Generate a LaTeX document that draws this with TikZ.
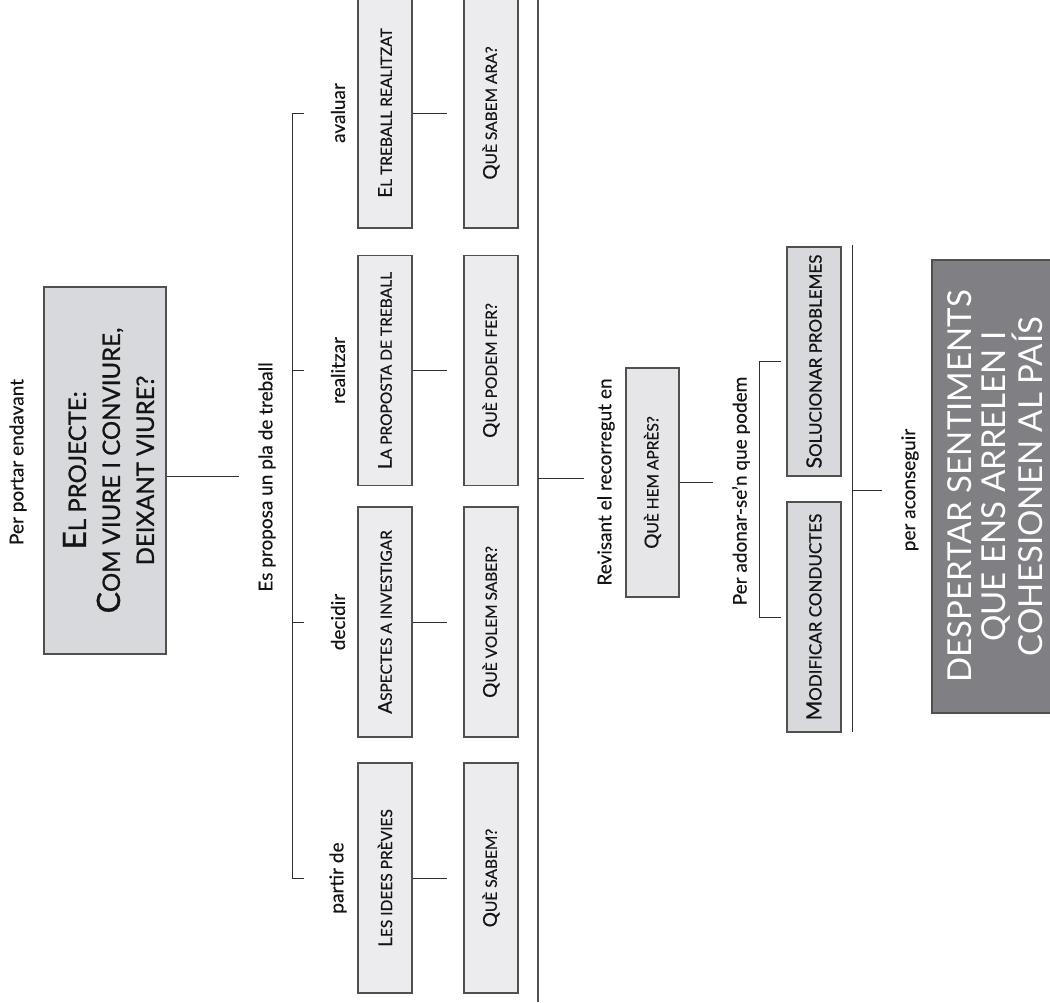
\documentclass[tikz,border=0pt]{standalone}
\usepackage{fontspec}
\setmainfont{Lato}
\definecolor{lightfill}{HTML}{ECECEE}
\definecolor{midfill}{HTML}{D8D9DC}
\definecolor{apresfill}{HTML}{E6E6E8}
\definecolor{darkfill}{HTML}{808084}
\definecolor{boxline}{HTML}{505050}
\definecolor{lineC}{HTML}{303030}
\newcommand{\fsc}[1]{{\fontsize{19}{19}\selectfont #1}}
\newcommand{\gsc}[1]{{\fontsize{21}{21}\selectfont #1}}
\newcommand{\tsc}[1]{{\fontsize{32}{34}\selectfont #1}}
\tikzset{
  conn/.style={draw=lineC, line width=1pt},
  lbl/.style={rotate=90, inner sep=0pt, font=\fontsize{19}{22}\selectfont\addfontfeature{FakeBold=0.3}, text=black!92},
  sbox/.style={draw=boxline, line width=1.2pt, fill=#1, rotate=90, inner sep=0pt,
    minimum width=230pt, minimum height=54pt, font=\fontsize{15.5}{17}\selectfont\addfontfeature{FakeBold=0.5}, text=black!92},
  tbox/.style={draw=boxline, line width=1.2pt, fill=midfill, rotate=90, inner sep=0pt,
    minimum width=367pt, minimum height=122pt, align=center, font=\fontsize{24}{34}\selectfont\addfontfeature{FakeBold=0.9}, text=black!92},
  bigbox/.style={draw=boxline, line width=1.2pt, fill=darkfill, rotate=90, inner sep=0pt,
    minimum width=453pt, minimum height=126pt, align=center, font=\fontsize{33}{34}\selectfont, text=white}
}
\begin{document}
\begin{tikzpicture}[x=1pt,y=-1pt]
\useasboundingbox (0,0) rectangle (1050,1002);

% title
\node[lbl] (porta) at (18,462) {Per portar endavant};
\node[tbox] (title) at (105,470.5) {\rule{0pt}{30pt}\tsc{E}L PROJECTE:\\\tsc{C}OM VIURE I CONVIURE,\\DEIXANT VIURE?};
\coordinate (c1) at (239,476);
\draw[conn] (title.south |- c1) -- (c1);
\node[lbl] (espla) at (267,477) {Es proposa un pla de treball};

% bracket
\coordinate (b1) at (304,113);
\coordinate (b2) at (304,370.5);
\coordinate (b3) at (304,622);
\coordinate (b4) at (304,878);
\draw[conn] (b1) -- (292,113) -- (292,878) -- (b4);
\draw[conn] (b2) -- (292,370.5);
\draw[conn] (b3) -- (292,622);

\node[lbl] (lava) at (338,113) {avaluar};
\node[lbl] (lrea) at (338,370.5) {realitzar};
\node[lbl] (ldec) at (338,622) {decidir};
\node[lbl] (lpar) at (338,878) {partir de};

% row 1
\node[sbox=lightfill] (r1a) at (385,113) {\fsc{E}L TREBALL REALITZAT};
\node[sbox=lightfill] (r1b) at (385,370.5) {\fsc{L}A PROPOSTA DE TREBALL};
\node[sbox=lightfill] (r1c) at (385,622) {\fsc{A}SPECTES A INVESTIGAR};
\node[sbox=lightfill] (r1d) at (385,878) {\fsc{L}ES IDEES PRÈVIES};
% row 2
\node[sbox=lightfill] (r2a) at (491,113) {\fsc{Q}UÈ SABEM ARA?};
\node[sbox=lightfill] (r2b) at (491,370.5) {\fsc{Q}UÈ PODEM FER?};
\node[sbox=lightfill] (r2c) at (491,622) {\fsc{Q}UÈ VOLEM SABER?};
\node[sbox=lightfill] (r2d) at (491,878) {\fsc{Q}UÈ SABEM?};

\coordinate (e1) at (447,113);
\coordinate (e2) at (447,370.5);
\coordinate (e3) at (447,622);
\coordinate (e4) at (447,878);
\draw[conn] (r1a.south) -- (e1);
\draw[conn] (r1b.south) -- (e2);
\draw[conn] (r1c.south) -- (e3);
\draw[conn] (r1d.south) -- (e4);

% long line
\coordinate (vtop) at (538,0);
\coordinate (vbot) at (538,1002);
\draw[conn, line width=1.4pt, draw=boxline] (vtop) -- (vbot);

\coordinate (r0) at (538,478);
\coordinate (r1) at (584,478);
\draw[conn] (r0) -- (r1);
\node[lbl] (rev) at (606,482) {Revisant el recorregut en};
\node[sbox=apresfill, minimum width=229pt, minimum height=53pt] (apres) at (652.5,482.5) {\fsc{Q}UÈ HEM APRÈS?};
\coordinate (a1) at (713,482.5);
\draw[conn] (apres.south) -- (a1);
\node[lbl] (adon) at (741,491) {Per adonar-se’n que podem};

\coordinate (s1) at (781,361.5);
\coordinate (s2) at (781,617);
\draw[conn] (s1) -- (759,361.5) -- (759,617) -- (s2);
\node[sbox=midfill, minimum width=229pt, font=\fontsize{17}{19}\selectfont\addfontfeature{FakeBold=0.6}] (sol) at (814,361.5) {\gsc{S}OLUCIONAR PROBLEMES};
\node[sbox=midfill, font=\fontsize{17}{19}\selectfont\addfontfeature{FakeBold=0.6}] (mod) at (814,617) {\gsc{M}ODIFICAR CONDUCTES};

\coordinate (p1) at (852,245);
\coordinate (p2) at (852,732);
\draw[conn] (p1) -- (p2);
\coordinate (p3) at (852,490);
\coordinate (p4) at (882,490);
\draw[conn] (p3) -- (p4);
\node[lbl] (acon) at (910,490) {per aconseguir};

\node[bigbox] (goal) at (995,486.5) {DESPERTAR SENTIMENTS\\QUE ENS ARRELEN I\\COHESIONEN AL PAÍS};
\end{tikzpicture}
\end{document}
